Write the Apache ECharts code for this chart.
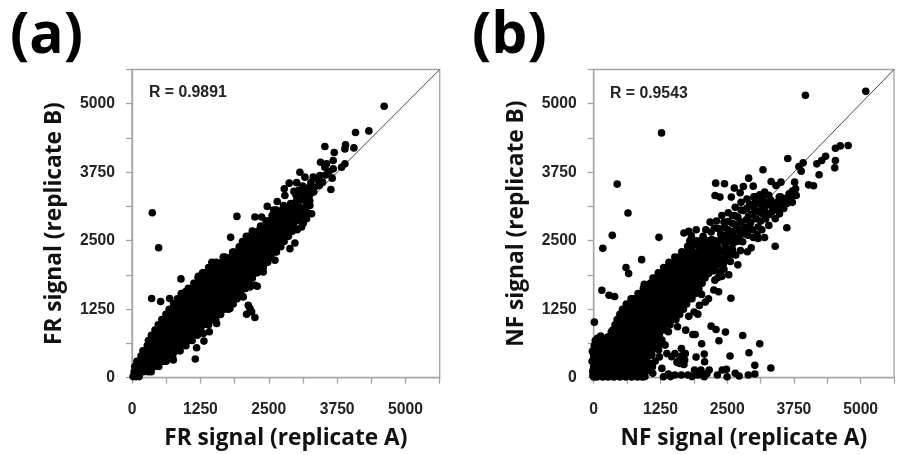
<!DOCTYPE html>
<html><head><meta charset="utf-8">
<style>html,body{margin:0;padding:0;background:#fff;overflow:hidden}#c{width:897px;height:455px;filter:blur(0.4px)}</style>
<script src="https://cdn.jsdelivr.net/npm/echarts@6/dist/echarts.min.js"></script>
</head><body><div id="c"></div>
<script>
const tickStep = 625;
const axisMax = 5625;
const tickLabels = [0, 1250, 2500, 3750, 5000];
const titleA = ['FR signal (replicate A)', 'FR signal (replicate B)', 'R = 0.9891', '(a)'];
const titleB = ['NF signal (replicate A)', 'NF signal (replicate B)', 'R = 0.9543', '(b)'];
const diagonal = [[0, 0], [5625, 5625]];

// Panel (a): dense cloud, read row by row as [y, [x values]]
const denseA = [
[20,[20,75,130]],[110,[40,125,210,295,350]],[205,[50,140,235,320,410,490]],
[300,[90,195,285,390,480,575,625]],[395,[165,255,360,445,550,640,745]],
[490,[200,310,405,515,610,720,815,880]],[585,[280,360,465,570,670,775,880,985]],
[680,[300,410,515,620,725,830,935,1040,1100]],[775,[355,460,570,675,780,885,990,1095,1195]],
[870,[420,525,625,730,835,940,1045,1150,1255]],[965,[480,575,680,785,890,995,1100,1205,1310,1400]],
[1060,[545,630,735,840,945,1050,1155,1260,1365,1470,1530]],[1155,[620,685,790,895,1000,1105,1210,1315,1420,1525,1620]],
[1250,[680,740,845,950,1055,1160,1265,1370,1475,1580,1685,1760]],[1345,[760,800,905,1010,1115,1220,1325,1430,1535,1640,1745,1850]],
[1440,[830,935,1040,1145,1250,1355,1460,1565,1670,1775,1880,1920]],[1535,[900,1000,1100,1205,1310,1415,1520,1625,1730,1835,1940,1990]],
[1630,[1030,1135,1240,1345,1450,1555,1660,1765,1870,1975,2075]],[1725,[1130,1195,1300,1405,1510,1615,1720,1825,1930,2035,2140]],
[1820,[1210,1255,1360,1465,1570,1675,1780,1885,1990,2095,2200]],[1915,[1290,1315,1420,1525,1630,1735,1840,1945,2050,2155,2260,2290]],
[2010,[1400,1480,1585,1690,1795,1900,2005,2110,2215,2320,2400]],[2105,[1460,1540,1645,1750,1855,1960,2065,2170,2275,2380,2480]],
[2200,[1670,1700,1805,1910,2015,2120,2225,2330,2435,2540]],[2295,[1840,1865,1970,2075,2180,2285,2390,2495,2600,2640]],
[2390,[1960,2030,2135,2240,2345,2450,2555,2660,2720]],[2485,[2020,2085,2190,2295,2400,2505,2610,2715,2780]],
[2580,[2090,2145,2250,2355,2460,2565,2670,2775,2860]],[2675,[2200,2305,2410,2515,2620,2725,2830,2930]],
[2770,[2350,2465,2570,2675,2780,2885,2960]],[2865,[2450,2520,2625,2730,2835,2940,3000]],
[2960,[2560,2680,2785,2890,2990,3060]],[3060,[2640,2750,2850,2960,3060]]
];
const sparseA = [
[4610,4953],[4086,4474],[4330,4504],[3526,4219],[3904,4249],[3892,4176],[4056,4194],[3697,4109],[3678,3964],[3447,3933],
[3557,3903],[3892,3903],[3831,3842],[3678,3812],[3526,3842],[3069,3751],[3636,3436],[3660,3642],[3483,3569],[3423,3508],
[3313,3660],[3435,3690],[3161,3660],[2874,3551],[2783,3448],[2795,3326],[2655,3217],[2473,3126],[3252,3144],[3283,2993],
[3191,2901],[3100,2750],[2978,2458],[2887,2355],[1918,2944],[2247,2932],[2369,2932],[1803,2562],[371,3011],[487,2373],
[895,1803],[1212,1851],[359,1445],[524,1390],[688,1445],[974,1566],[2125,1323],[2156,1263],[2095,1159],[2186,1202],
[2247,1099],[2247,1687],[2156,1657],[2290,1670],[2613,2143],[1413,838],[1315,668],[1181,546],[1157,340],[755,322],
[1303,807],[1547,989],[1790,1263],[2034,1475],[2399,1930],[3100,3250],[3000,3330],[3180,3400],[3060,3120],[2900,3180],
[3160,3100],[3240,3330],[3340,3480],[3120,3500],[3010,3560],[2960,3400],[3270,3560],[2930,3050],[3130,2950],[3050,2880],
[3180,3210],[2870,3000],[2770,3140],[2590,3060],[3130,2820],[3020,2700],
[3050,3420],[3130,3330],[3220,3460],[3000,3220],[2980,3140],[3080,3040],[3200,3020],[2830,3100],[3400,3610],[3540,3700],
[3600,3760],[3320,3390],[3250,3230]
];

// Panel (b): dense cloud, read row by row as [y, [x values]]
const denseB = [
[15,[0,60,170,270,380,490,600,710,820,910]],[110,[5,110,215,320,425,530,635,740,845,930]],
[205,[0,60,165,270,375,480,585,690,795,900,950]],[300,[5,110,215,320,425,530,635,740,845,950,985]],
[395,[0,60,165,270,375,480,585,690,795,900,1005,1030]],[490,[5,110,215,320,425,530,635,740,845,950,1055]],
[585,[10,60,165,270,375,480,585,690,795,900,1005,1110]],[680,[30,110,215,320,425,530,635,740,845,950,1055,1155]],
[775,[330,375,480,585,690,795,900,1005,1110,1215,1230]],[870,[360,425,530,635,740,845,950,1055,1160,1265,1320]],
[965,[400,480,585,690,795,900,1005,1110,1215,1320,1430]],[1060,[440,530,635,740,845,950,1055,1160,1265,1370,1475,1540]],
[1155,[490,585,690,795,900,1005,1110,1215,1320,1425,1530,1610]],[1250,[540,635,740,845,950,1055,1160,1265,1370,1475,1580,1680]],
[1345,[610,690,795,900,1005,1110,1215,1320,1425,1530,1635,1740]],[1440,[700,740,845,950,1055,1160,1265,1370,1475,1580,1685,1790,1840]],
[1535,[830,900,1005,1110,1215,1320,1425,1530,1635,1740,1845,1905]],[1630,[930,950,1055,1160,1265,1370,1475,1580,1685,1790,1895,1970]],
[1725,[1060,1110,1215,1320,1425,1530,1635,1740,1845,1950,2030]],[1820,[1110,1160,1265,1370,1475,1580,1685,1790,1895,2000,2085]],
[1915,[1210,1320,1425,1530,1635,1740,1845,1950,2055,2150]],[2010,[1310,1370,1475,1580,1685,1790,1895,2000,2105,2180]],
[2105,[1410,1530,1635,1740,1845,1950,2055,2160,2225]],[2200,[1520,1600,1700,1810,1910,2020,2120,2230]],
[2300,[1650,1740,1850,1960,2060,2170,2290,2400]],[2400,[1760,1850,1980,2090,2200,2310]],
[2500,[1800,1920,2030,2150,2280,2420,2510]]
];
const sparseB = [
[5096,5226],[3965,5153],[1271,4468],[440,3533],[642,3005],[348,2598],[171,2361],[1222,2562],[898,2155],[605,2009],
[654,1900],[947,1706],[153,1596],[287,1505],[391,1481],[12,1014],[4766,4237],[4619,4231],[4528,4188],[4528,3964],
[4515,3830],[4344,4043],[4271,3964],[4179,3903],[4222,3703],[4118,3502],[4026,3520],[3923,3921],[3843,3854],[3886,3770],
[3635,4000],[3764,3569],[3782,3448],[3721,3405],[3660,3357],[3794,3326],[3617,2738],[3171,3794],[2902,3642],[2285,3551],
[2450,3539],[2273,3326],[2365,3296],[3324,3581],[3415,3508],[3507,3569],[2988,3496],[2804,3490],[2633,3460],[2743,3375],
[3202,3387],[2578,3296],[3476,3296],[3507,3175],[3354,3114],
[2200,941],[2291,880],[2468,832],[2792,771],[3110,619],[2346,674],[1723,868],[1857,789],[1900,789],[2022,619],
[2908,455],[2554,395],[2071,431],[1918,376],[2077,291],[3018,225],[3318,176],[3018,67],[2896,49],[2725,30],
[2499,18],[2652,79],[2487,152],[2407,140],[2316,49],[1570,929],[1399,838],[1277,686],[1338,595],[1216,504],
[1521,443],[1643,534],[1717,443],[1705,322],[1613,261],[1460,382],[1370,440],[1277,170],[1106,79],[1307,18],
[1521,49],[1766,49],[1888,140],[2010,140],[2163,140],[2071,18],[1949,49],[1643,49],[1399,67],[1150,300],[1100,200],[1230,380],
[1650,400],[1600,320],[1560,280],[1690,240],[1990,60],[2120,70],[1840,20],[1440,20],[1250,620],
[2440,2840],[2520,2700],[2600,2820],[2700,2930],[2800,3050],[2900,2950],[3000,3100],[3100,3180],[3210,3030],[3290,2980],
[2380,2620],[2460,2450],[2560,2560],[2650,2690],[2740,2600],[2840,2740],[2940,2830],[3040,2900],[3130,2860],[3220,2900],
[2330,2260],[2420,2330],[2520,2350],[2610,2450],[2700,2490],[2790,2480],[2890,2600],[2980,2700],[3080,2750],[3150,2700],
[2280,2100],[2380,2060],[2450,2180],[2560,2120],[2660,2240],[2750,2320],[2350,1930],[2400,1850],[2440,1980],[2270,1780],
[2700,2060],[2880,2300],[2950,2370],[3080,2540],[3400,2400],[3200,2560],[3060,2610],[3280,2780],[3400,2900],[3480,2990],
[3560,3090],[3620,3180],[3440,3200],[3320,3240],[3220,3200],[3110,3340],[3000,3300],[2870,3260],[2760,3200],[2650,3110],
[2520,3010],[2400,2960],[2300,2860],[2180,2840],[2260,2730],[2100,2700],[1920,2700],[1780,2670],[1690,2640],[2050,2580],
[2520,2850],[2640,2960],[2920,3170],[3030,3200],[2150,1900],[2240,1950],[2530,1880],[2250,1600],[2150,1440],[2090,1380],
[2340,1570],[2570,1450],[2020,1520],[1980,1320],[1880,1200],[1780,1120],[1950,1160],
[70,720],[130,760],[200,690],[260,740],[330,840],[300,700],[-20,120],[-30,300],[-25,480],[-15,40],[960,20],[1010,130],[1060,260],[1090,420],[1150,540],
[2130,2420],[2210,2520],[2300,2470],[2380,2520],[2470,2600],[2330,2380],[2500,2480],[2580,2660],[2660,2790],[2760,2840],
[2860,2880],[2960,2980],[3060,3040],[3160,3120],[3250,3150],[3340,3030],[3450,3080],[3540,3240],[3140,3000],[2820,2630],
[2900,2720],[2990,2560],[2640,2560],[2720,2710],[2560,2240],[2470,2300],[2600,2340],[2350,2160],[2430,2080],[2330,1830],
[2240,2280],[2300,2190],[2200,2060],[2270,2000],[2160,2300],[2090,2380],[2000,2500],[1900,2480],[1830,2590],[2200,2660],
[2340,2720],[2450,2740],[2600,2960],[2760,3060],[2870,3090],[3040,3300],[3160,3270],[3280,3330],[3400,3150],[3500,3300],
[3580,3270],[3660,3250],[3700,3300],[3720,3200],[3440,3060]
];

const expand = rows => rows.flatMap(r => r[1].map(x => [x, r[0]]));
const axisColor = '#a3a3a3';
const labelFont = {color:'#222', fontFamily:'"Liberation Sans"', fontWeight:'bold', fontSize:15.7};
const titleFont = {color:'#111', fontFamily:'"Open Sans"', fontWeight:'bold', fontSize:22.7};
const fmt = v => tickLabels.includes(v) ? String(v) : '';

function axis(name, idx, isX) {
  return {
    type:'value', gridIndex:idx, min:0, max:axisMax, interval:tickStep,
    name, nameLocation:'middle', nameGap:isX?49:66, nameMoveOverlap:false, nameTextStyle:titleFont,
    splitLine:{show:false},
    axisLine:{show:true, onZero:true, lineStyle:{color:axisColor, width:1.3}},
    axisTick:{show:true, length:6, lineStyle:{color:axisColor, width:1.3}},
    axisLabel:{...labelFont, formatter:fmt, margin:isX?24:17, showMinLabel:true, showMaxLabel:true, hideOverlap:false, interval:0}
  };
}
function scatter(i, data) {
  return {type:'scatter', xAxisIndex:i, yAxisIndex:i, data, symbol:'circle', symbolSize:7.6,
    itemStyle:{color:'#000', opacity:1}, clip:false, silent:true, z:5, large:false, animation:false};
}
function line(i) {
  return {type:'line', xAxisIndex:i, yAxisIndex:i, data:diagonal, symbol:'none', silent:true, z:3,
    lineStyle:{color:'#444', width:1}, animation:false};
}
function text(left, top, t, style) {
  return {type:'text', left, top, style:{text:t, ...style}, silent:true};
}
const chart = echarts.init(document.getElementById('c'), null, {renderer:'canvas'});
const bigFont = {fill:'#000', font:'bold 57px "Open Sans"'};
const rFont = {fill:'#222', font:'bold 15.8px "Liberation Sans"'};
chart.setOption({
  animation:false, backgroundColor:'#fff',
  grid:[
    {left:132, top:69.5, width:307.7, height:308.2, show:true, borderColor:axisColor, borderWidth:1.3, backgroundColor:'transparent'},
    {left:593.7, top:69.5, width:307.7, height:308.2, show:true, borderColor:axisColor, borderWidth:1.3, backgroundColor:'transparent'}
  ],
  xAxis:[axis(titleA[0],0,true), axis(titleB[0],1,true)],
  yAxis:[axis(titleA[1],0,false), axis(titleB[1],1,false)],
  series:[
    line(0), scatter(0, expand(denseA).concat(sparseA)),
    line(1), scatter(1, expand(denseB).concat(sparseB))
  ],
  graphic:[
    text(10, 8, titleA[3], bigFont),
    text(472, 8, titleB[3], bigFont),
    text(149, 85, titleA[2], rFont),
    text(610, 86, titleB[2], rFont)
  ]
});
</script></body></html>
